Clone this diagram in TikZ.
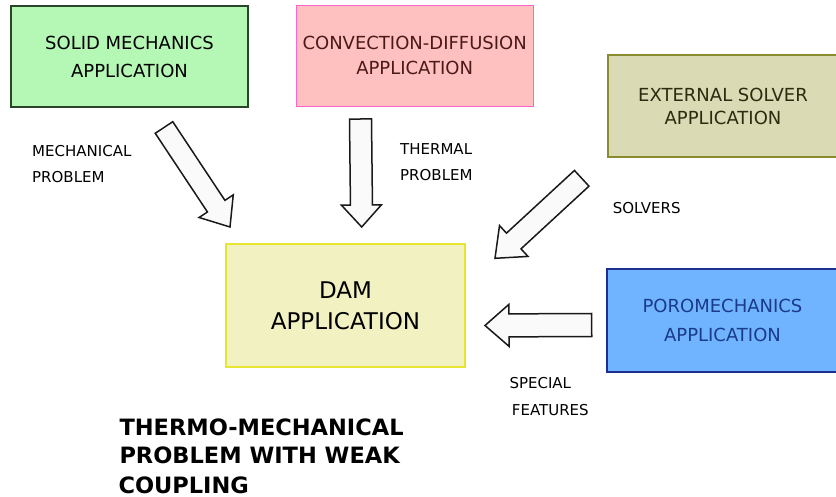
\documentclass[tikz,border=0pt]{standalone}
\usepackage{fontspec}
\setmainfont{DejaVu Sans}
\usetikzlibrary{calc}
\definecolor{solidfill}{HTML}{B5F8B5}
\definecolor{soliddraw}{HTML}{2A452A}
\definecolor{convfill}{HTML}{FFC0C0}
\definecolor{convdraw}{HTML}{FF66CC}
\definecolor{convtext}{HTML}{4A1A1A}
\definecolor{extfill}{HTML}{DADAB5}
\definecolor{extdraw}{HTML}{8A8A30}
\definecolor{exttext}{HTML}{2B2B10}
\definecolor{damfill}{HTML}{F1F1C1}
\definecolor{damdraw}{HTML}{E6E630}
\definecolor{porofill}{HTML}{70B4FF}
\definecolor{porodraw}{HTML}{1F2F8F}
\definecolor{porotext}{HTML}{1A3A8A}
\definecolor{arrowfill}{HTML}{FAFAFA}
\newcommand\fatarrow[6]{%
  \coordinate (#1t) at #2;
  \coordinate (#1h) at #3;
  \coordinate (#1b) at ($(#1h)!#6!(#1t)$);
  \draw[fatarrow] ($(#1t)!#4!90:(#1h)$) -- ($(#1b)!#4!90:(#1h)$) -- ($(#1b)!#5!90:(#1h)$) -- (#1h)
    -- ($(#1b)!#5!-90:(#1h)$) -- ($(#1b)!#4!-90:(#1h)$) -- ($(#1t)!#4!-90:(#1h)$) -- cycle;}
\begin{document}
\begin{tikzpicture}[x=1pt,y=-1pt,
  appbox/.style={draw, line width=1.2pt, align=center, inner sep=0pt},
  lbl/.style={anchor=base west, inner sep=0pt, font=\fontsize{15}{26}\selectfont},
  fatarrow/.style={draw=black!90, fill=arrowfill, line width=1.5pt, line join=miter}]
\useasboundingbox (0,0) rectangle (836,497);
\clip (0,0) rectangle (836,497);
% boxes
\node[appbox, fill=solidfill, draw=soliddraw, minimum width=237pt, minimum height=101pt,
      font=\fontsize{18}{28}\selectfont] (solid) at (129.5,56.5) {SOLID MECHANICS\\APPLICATION};
\node[appbox, fill=convfill, draw=convdraw, text=convtext, minimum width=237pt, minimum height=101pt,
      font=\fontsize{18}{25}\selectfont] (conv) at (414.7,55.8) {CONVECTION-DIFFUSION\\APPLICATION};
\node[appbox, fill=extfill, draw=extdraw, text=exttext, minimum width=230pt, minimum height=102pt,
      font=\fontsize{18}{23}\selectfont] (ext) at (723,106) {EXTERNAL SOLVER\\APPLICATION};
\node[appbox, fill=damfill, draw=damdraw, minimum width=239pt, minimum height=123pt,
      font=\fontsize{23}{31}\selectfont] (dam) at (345.5,305.5) {DAM\\APPLICATION};
\node[appbox, fill=porofill, draw=porodraw, text=porotext, minimum width=231pt, minimum height=103pt,
      font=\fontsize{18}{29}\selectfont] (poro) at (722.5,320.5) {POROMECHANICS\\APPLICATION};
% block arrows
\fatarrow{am}{(164,127.5)}{(230,227)}{10.5pt}{20.5pt}{25pt}
\fatarrow{at}{(360.5,119)}{(361.7,227)}{11pt}{20pt}{22pt}
\fatarrow{as}{(581.7,178.3)}{(495,258.3)}{10.7pt}{21pt}{25.5pt}
\fatarrow{ap}{(591.7,325)}{(485,325.5)}{11.5pt}{21pt}{24pt}
% labels
\node[lbl] (lmech1) at (32,156.7) {MECHANICAL};
\node[lbl] (lmech2) at (32,182.7) {PROBLEM};
\node[lbl] (ltherm1) at (400,154.3) {THERMAL};
\node[lbl] (ltherm2) at (400,180.7) {PROBLEM};
\node[lbl] (lsolv) at (612.7,213.3) {SOLVERS};
\node[lbl] (lspec1) at (509.3,388.3) {SPECIAL};
\node[lbl] (lspec2) at (511.7,415) {FEATURES};
% title
\node[anchor=base west, inner sep=0pt, font=\fontsize{22.5}{29}\selectfont\bfseries] (t1) at (119.3,435) {THERMO-MECHANICAL};
\node[anchor=base west, inner sep=0pt, font=\fontsize{22.5}{29}\selectfont\bfseries] (t2) at (119.3,463.3) {PROBLEM WITH WEAK};
\node[anchor=base west, inner sep=0pt, font=\fontsize{22.5}{29}\selectfont\bfseries] (t3) at (118.3,493.3) {COUPLING};
\end{tikzpicture}
\end{document}
